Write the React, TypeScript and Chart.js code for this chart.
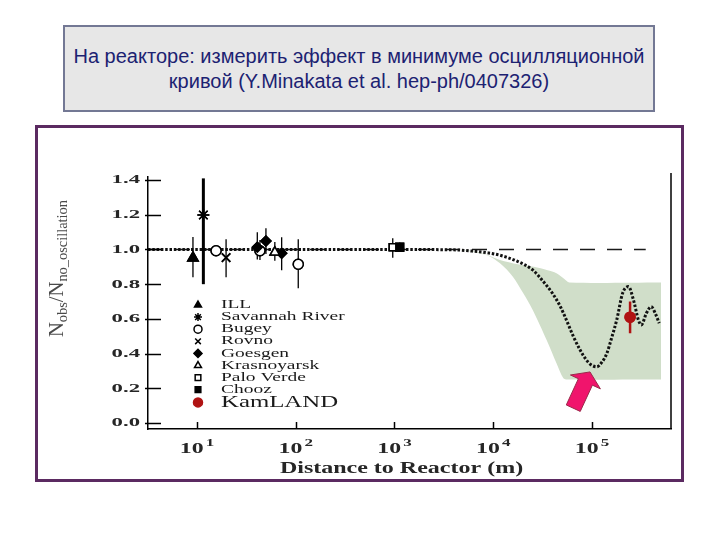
import React, { useEffect, useRef } from "react";
import { Chart, registerables } from "chart.js";
import { drawPoint } from "chart.js/helpers";

Chart.register(...registerables);

// ---------- data ----------
const Y_TICKS = [0.0, 0.2, 0.4, 0.6, 0.8, 1.0, 1.2, 1.4];
const X_TICKS = [10, 100, 1000, 10000, 100000];
const X_TICK_EXP = ["1", "2", "3", "4", "5"];

const TITLE_LINES = [
  "На реакторе: измерить эффект в минимуме осцилляционной",
  "кривой (Y.Minakata et al. hep-ph/0407326)",
];
const X_TITLE = "Distance to Reactor (m)";

const ILL = [{ x: 9.1, y: 0.951, lo: 0.84, hi: 1.072 }];
const SAVANNAH = [{ x: 11.6, y: 1.199, lo: 0.8, hi: 1.41 }];
const BUGEY = [
  { x: 15.6, y: 0.993, lo: 0.968, hi: 1.02 },
  { x: 43.4, y: 0.993, lo: 0.94, hi: 1.055 },
  { x: 106, y: 0.915, lo: 0.776, hi: 1.059 },
];
const ROVNO = [{ x: 19.7, y: 0.953, lo: 0.84, hi: 1.059 }];
const GOESGEN = [
  { x: 40.8, y: 1.013, lo: 0.943, hi: 1.099 },
  { x: 49.9, y: 1.049, lo: 0.974, hi: 1.122 },
  { x: 72, y: 0.978, lo: 0.88, hi: 1.07 },
];
const KRASNOYARSK = [{ x: 61.4, y: 0.984, lo: 0.935, hi: 1.043 }];
const PALO_VERDE = [{ x: 960, y: 1.013, lo: 0.953, hi: 1.065 }];
const CHOOZ = [{ x: 1130, y: 1.013, lo: 0.985, hi: 1.04 }];
const KAMLAND = [{ x: 243000, y: 0.61, lo: 0.517, hi: 0.7 }];

const NO_OSC_X = [3.19, 350000];
const NO_OSC_Y = [1.0, 1.0];

const CURVE_X = [3.19, 1000, 3980, 6310, 8910, 11500, 17800, 25100, 31600, 39800, 47900, 55000, 64600, 75900, 87100, 97700, 112000, 126000, 141000, 158000, 178000, 204000, 234000, 263000, 295000, 316000, 355000, 398000, 437000, 479000];
const CURVE_Y = [1.0, 1.0, 0.998, 0.99, 0.98, 0.968, 0.93, 0.882, 0.82, 0.747, 0.67, 0.594, 0.5, 0.42, 0.365, 0.335, 0.324, 0.35, 0.4, 0.49, 0.594, 0.747, 0.786, 0.709, 0.594, 0.565, 0.632, 0.67, 0.632, 0.575];

const BAND_UP_X = [4570, 7080, 11700, 17800, 25700, 35500, 43700, 52500, 58900, 501000];
const BAND_UP_Y = [1.0, 0.985, 0.94, 0.915, 0.9, 0.88, 0.863, 0.83, 0.81, 0.81];
const BAND_LO_X = [4570, 8510, 11700, 15800, 20000, 25100, 34700, 43700, 51300, 56200, 501000];
const BAND_LO_Y = [1.0, 0.968, 0.92, 0.843, 0.75, 0.651, 0.478, 0.344, 0.257, 0.25, 0.25];

const ARROW_TIP = { x: 95500, y: 0.294 };
const ARROW_TAIL = { x: 64600, y: 0.085 };

const zip = (xs: number[], ys: number[]) => xs.map((x, i) => ({ x, y: ys[i] }));

// ---------- drawing helpers ----------
function sText(ctx: CanvasRenderingContext2D, text: string, x: number, y: number, font: string, sx: number, align: CanvasTextAlign, color: string) {
  ctx.save();
  ctx.font = font;
  ctx.fillStyle = color;
  ctx.translate(x, y);
  ctx.scale(sx, 1);
  ctx.textAlign = align;
  ctx.textBaseline = "middle";
  ctx.fillText(text, 0, 0);
  ctx.restore();
}

const decorPlugin = {
  id: "decor",
  afterDatasetsDraw(chart: any) {
    const ctx: CanvasRenderingContext2D = chart.ctx;
    const xs = chart.scales.x;
    const ys = chart.scales.y;

    // error bars
    chart.data.datasets.forEach((ds: any, i: number) => {
      if (!ds.errorColor) return;
      const meta = chart.getDatasetMeta(i);
      if (meta.hidden) return;
      ds.data.forEach((p: any) => {
        if (p.lo === undefined) return;
        const px = xs.getPixelForValue(p.x);
        ctx.save();
        ctx.strokeStyle = ds.errorColor;
        ctx.lineWidth = ds.errorWidth;
        ctx.beginPath();
        ctx.moveTo(px, ys.getPixelForValue(p.lo));
        ctx.lineTo(px, ys.getPixelForValue(p.hi));
        ctx.stroke();
        ctx.restore();
      });
    });
    // redraw markers on top of bars
    chart.data.datasets.forEach((ds: any, i: number) => {
      if (!ds.errorColor) return;
      const meta = chart.getDatasetMeta(i);
      meta.data.forEach((el: any) => el.draw(ctx, chart.chartArea));
    });

    // arrow
    const tx = xs.getPixelForValue(ARROW_TIP.x), ty = ys.getPixelForValue(ARROW_TIP.y);
    const bx = xs.getPixelForValue(ARROW_TAIL.x), by = ys.getPixelForValue(ARROW_TAIL.y);
    const len = Math.hypot(tx - bx, ty - by);
    const ux = (tx - bx) / len, uy = (ty - by) / len;
    const nx = -uy, ny = ux;
    const headL = 11, headW = 16.5, shaftW = 7.7;
    const hx = tx - ux * headL, hy = ty - uy * headL;
    ctx.save();
    ctx.beginPath();
    ctx.moveTo(bx + nx * shaftW, by + ny * shaftW);
    ctx.lineTo(hx + nx * shaftW, hy + ny * shaftW);
    ctx.lineTo(hx + nx * headW, hy + ny * headW);
    ctx.lineTo(tx, ty);
    ctx.lineTo(hx - nx * headW, hy - ny * headW);
    ctx.lineTo(hx - nx * shaftW, hy - ny * shaftW);
    ctx.lineTo(bx - nx * shaftW, by - ny * shaftW);
    ctx.closePath();
    ctx.fillStyle = "#f0146c";
    ctx.fill();
    ctx.strokeStyle = "#9a2a4a";
    ctx.lineWidth = 1;
    ctx.stroke();
    ctx.restore();
  },
  afterDraw(chart: any) {
    const ctx: CanvasRenderingContext2D = chart.ctx;
    const { left, right, top, bottom } = chart.chartArea;
    const xs = chart.scales.x;
    const ys = chart.scales.y;

    ctx.save();
    ctx.strokeStyle = "#000";
    ctx.lineWidth = 1.5;
    // right frame line
    ctx.beginPath();
    ctx.moveTo(right, top - 4);
    ctx.lineTo(right, bottom);
    ctx.stroke();
    // y ticks (inside)
    Y_TICKS.forEach((v) => {
      const py = Math.round(ys.getPixelForValue(v)) + 0.5;
      ctx.beginPath();
      ctx.moveTo(left - 3, py);
      ctx.lineTo(left + 13, py);
      ctx.stroke();
    });
    // x ticks (inside)
    X_TICKS.forEach((v) => {
      const px = Math.round(xs.getPixelForValue(v)) + 0.5;
      ctx.beginPath();
      ctx.moveTo(px, bottom);
      ctx.lineTo(px, bottom - 7);
      ctx.stroke();
    });
    ctx.restore();

    // y tick labels
    Y_TICKS.forEach((v) => {
      sText(ctx, v.toFixed(1), left - 8, ys.getPixelForValue(v), 'bold 13px "Liberation Serif"', 1.75, "right", "#262626");
    });
    // x tick labels 10^n
    X_TICKS.forEach((v, i) => {
      const px = xs.getPixelForValue(v);
      const sx = 1.7;
      ctx.save();
      ctx.font = 'bold 14px "Liberation Serif"';
      const w1 = ctx.measureText("10").width * sx;
      ctx.font = 'bold 10px "Liberation Serif"';
      const w2 = ctx.measureText(X_TICK_EXP[i]).width * sx;
      ctx.restore();
      const x0 = px - (w1 + w2 + 2) / 2;
      sText(ctx, "10", x0, bottom + 20, 'bold 14px "Liberation Serif"', sx, "left", "#262626");
      sText(ctx, X_TICK_EXP[i], x0 + w1 + 2, bottom + 14, 'bold 10px "Liberation Serif"', sx, "left", "#262626");
    });
    // x title
    sText(ctx, X_TITLE, (left + right) / 2 - 8, bottom + 39.5, 'bold 16px "Liberation Serif"', 1.5, "center", "#262626");

    // y title with subscripts, rotated
    ctx.save();
    const parts = [
      { t: "N", f: 20, dy: 0 },
      { t: "obs", f: 14, dy: 4 },
      { t: "/", f: 20, dy: 0 },
      { t: "N", f: 20, dy: 0 },
      { t: "no_oscillation", f: 14, dy: 4 },
    ];
    let W = 0;
    const widths = parts.map((p) => {
      ctx.font = `${p.f}px "Liberation Serif"`;
      const w = ctx.measureText(p.t).width;
      W += w;
      return w;
    });
    const s = 137 / W;
    ctx.translate(left - 85, top + 160);
    ctx.rotate(-Math.PI / 2);
    ctx.scale(s, 1);
    ctx.fillStyle = "#4a4a4a";
    ctx.textBaseline = "alphabetic";
    ctx.textAlign = "left";
    let cx = 0;
    parts.forEach((p, i) => {
      ctx.font = `${p.f}px "Liberation Serif"`;
      ctx.fillText(p.t, cx, p.dy);
      cx += widths[i];
    });
    ctx.restore();

    // legend (inside plot area)
    const items = chart.data.datasets.filter((d: any) => d.legendLabel);
    items.sort((a: any, b: any) => a.legendRank - b.legendRank);
    const symX = left + 50;
    const txtX = left + 73;
    items.forEach((d: any, i: number) => {
      const big = d.legendBig;
      const y = top + 128 + i * 12.1 + (big ? 0.6 : 0);
      ctx.save();
      ctx.fillStyle = d.pointBackgroundColor;
      ctx.strokeStyle = d.pointBorderColor;
      ctx.lineWidth = d.pointBorderWidth;
      drawPoint(ctx, { pointStyle: d.pointStyle, radius: big ? 4.5 : 4, rotation: 0, borderWidth: d.pointBorderWidth }, symX, y);
      ctx.restore();
      sText(ctx, d.legendLabel, txtX, y, big ? '16px "Liberation Serif"' : '12px "Liberation Serif"', big ? 1.55 : 1.62, "left", "#1a1a1a");
    });
  },
};

const marker = (label: string, rank: number, data: any[], style: string, fill: string, border: string, radius: number, extra: any = {}) => ({
  label,
  legendLabel: label,
  legendRank: rank,
  data,
  showLine: false,
  pointStyle: style,
  pointRadius: radius,
  pointBackgroundColor: fill,
  pointBorderColor: border,
  pointBorderWidth: 1.5,
  errorColor: "#000",
  errorWidth: 1.3,
  order: 0,
  ...extra,
});

export default function App() {
  const ref = useRef<HTMLCanvasElement | null>(null);
  useEffect(() => {
    if (!ref.current) return;
    const chart = new Chart(ref.current, {
      type: "line",
      data: {
        datasets: [
          marker("KamLAND", 9, KAMLAND, "circle", "#b01313", "#b01313", 5, { errorColor: "#b01313", errorWidth: 2.5, legendBig: true }),
          marker("ILL", 1, ILL, "triangle", "#000", "#000", 6),
          marker("Savannah River", 2, SAVANNAH, "star", "#000", "#000", 6, { errorWidth: 3 }),
          marker("Bugey", 3, BUGEY, "circle", "#fff", "#000", 5),
          marker("Rovno", 4, ROVNO, "crossRot", "#000", "#000", 6),
          marker("Goesgen", 5, GOESGEN, "rectRot", "#000", "#000", 5),
          marker("Krasnoyarsk", 6, KRASNOYARSK, "triangle", "#fff", "#000", 5.5),
          marker("Palo Verde", 7, PALO_VERDE, "rect", "#fff", "#000", 5),
          marker("Chooz", 8, CHOOZ, "rect", "#000", "#000", 5.5),
          {
            label: "no oscillation",
            data: zip(NO_OSC_X, NO_OSC_Y),
            borderColor: "#1a1a1a",
            borderWidth: 1.4,
            borderDash: [15, 12],
            pointRadius: 0,
            fill: false,
            order: 8,
          },
          {
            label: "expected",
            data: zip(CURVE_X, CURVE_Y),
            borderColor: "#111",
            borderWidth: 3,
            borderDash: [2.5, 1.8],
            pointRadius: 0,
            cubicInterpolationMode: "monotone",
            fill: false,
            order: 6,
          },
          {
            label: "band up",
            data: zip(BAND_UP_X, BAND_UP_Y),
            borderWidth: 0,
            borderColor: "rgba(0,0,0,0)",
            backgroundColor: "#d0dec9",
            pointRadius: 0,
            tension: 0.3,
            fill: "+1",
            order: 10,
          },
          {
            label: "band lo",
            data: zip(BAND_LO_X, BAND_LO_Y),
            borderWidth: 0,
            borderColor: "rgba(0,0,0,0)",
            pointRadius: 0,
            tension: 0.3,
            fill: false,
            order: 11,
          },
        ] as any,
      },
      options: {
        animation: false,
        responsive: false,
        devicePixelRatio: 1,
        events: [],
        layout: { padding: { top: 177, right: 49, bottom: 0, left: 0 } },
        plugins: { legend: { display: false }, tooltip: { enabled: false }, title: { display: false } },
        scales: {
          x: {
            type: "logarithmic",
            min: 3.19,
            max: 631000,
            grid: { display: false },
            border: { display: true, color: "#000", width: 1.5 },
            ticks: { display: false },
            afterBuildTicks: (s: any) => { s.ticks = X_TICKS.map((v) => ({ value: v })); },
            afterFit: (s: any) => { s.height = 111; },
          },
          y: {
            type: "linear",
            min: -0.035,
            max: 1.418,
            grid: { display: false },
            border: { display: true, color: "#000", width: 1.5 },
            ticks: { display: false },
            afterBuildTicks: (s: any) => { s.ticks = Y_TICKS.map((v) => ({ value: v })); },
            afterFit: (s: any) => { s.width = 148; },
          },
        },
      } as any,
      plugins: [decorPlugin],
    });
    return () => chart.destroy();
  }, []);

  return (
    <div style={{ position: "absolute", left: 0, top: 0, width: 720, height: 540, background: "#fff", overflow: "hidden" }}>
      <div
        style={{
          position: "absolute", left: 35, top: 125, width: 649, height: 357, boxSizing: "border-box",
          border: "3px solid #5b2a61", background: "#fff",
        }}
      />
      <canvas ref={ref} width={720} height={540} style={{ position: "absolute", left: 0, top: 0, width: 720, height: 540 }} />
      <div
        style={{
          position: "absolute", left: 63, top: 25, width: 592, height: 87, boxSizing: "border-box",
          border: "2px solid #737894", background: "#e7e7e7",
          fontFamily: '"Liberation Sans", Arial, sans-serif', fontSize: 20, lineHeight: "25px",
          color: "#1c2272", textAlign: "center", paddingTop: 17,
        }}
      >
        {TITLE_LINES.map((l, i) => (
          <div key={i} style={{ whiteSpace: "nowrap" }}>{l}</div>
        ))}
      </div>
    </div>
  );
}
